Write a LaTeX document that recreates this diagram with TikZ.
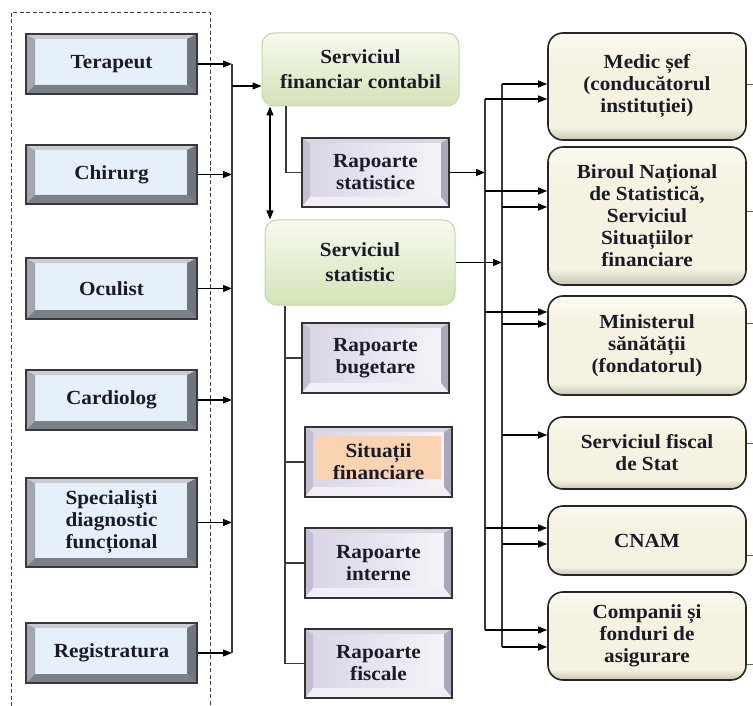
\documentclass[tikz,border=0pt]{standalone}
\usepackage{fontspec}
\setmainfont{Liberation Serif}[FakeStretch=1.06]
\usetikzlibrary{arrows.meta}

\definecolor{txt}{HTML}{1B1B28}
\definecolor{lface}{HTML}{E6F0FA}
\definecolor{lbvL}{HTML}{A2A7AF}
\definecolor{lbvT}{HTML}{C9CDD3}
\definecolor{lbvR}{HTML}{6F757D}
\definecolor{lbvB}{HTML}{7C8189}
\definecolor{pfaceL}{HTML}{D9D3E6}
\definecolor{pfaceR}{HTML}{F7F5FA}
\definecolor{pbvL}{HTML}{C4BED2}
\definecolor{pbvT}{HTML}{DAD6E2}
\definecolor{pbvR}{HTML}{ACA6BA}
\definecolor{pbvB}{HTML}{F1EFF5}
\definecolor{peach}{HTML}{F9D3B2}
\definecolor{gtop}{HTML}{F7FAF1}
\definecolor{gbot}{HTML}{D3E3B6}
\definecolor{gedge}{HTML}{C5D6A6}
\definecolor{creamT}{HTML}{FCFAF1}
\definecolor{creamM}{HTML}{F6F2E1}
\definecolor{creamD}{HTML}{C9C4B3}
\definecolor{busc}{HTML}{3A3A3A}

\pgfdeclareverticalshading{creamsh}{100bp}{color(0bp)=(creamD); color(25bp)=(creamD); color(31bp)=(creamM); color(62bp)=(creamM); color(75bp)=(creamT); color(100bp)=(creamT)}

\newcommand\bevelfill[8]{%
 \fill[#5] (path picture bounding box.north west) -- (path picture bounding box.south west) -- ([shift={(#1,#4)}]path picture bounding box.south west) -- ([shift={(#1,-#2)}]path picture bounding box.north west) -- cycle;
 \fill[#6] (path picture bounding box.north west) -- (path picture bounding box.north east) -- ([shift={(-#3,-#2)}]path picture bounding box.north east) -- ([shift={(#1,-#2)}]path picture bounding box.north west) -- cycle;
 \fill[#7] (path picture bounding box.north east) -- (path picture bounding box.south east) -- ([shift={(-#3,#4)}]path picture bounding box.south east) -- ([shift={(-#3,-#2)}]path picture bounding box.north east) -- cycle;
 \fill[#8] (path picture bounding box.south west) -- (path picture bounding box.south east) -- ([shift={(-#3,#4)}]path picture bounding box.south east) -- ([shift={(#1,#4)}]path picture bounding box.south west) -- cycle;
}

\tikzset{
 lab/.style={align=center, text=txt, inner sep=0pt, font=\fontsize{20}{22}\selectfont\bfseries},
 lbox/.style={lab, rectangle, draw=black!78, line width=1.2pt, fill=lface, minimum width=171pt,
   path picture={\bevelfill{9pt}{5pt}{10pt}{9pt}{lbvL}{lbvT}{lbvR}{lbvB}}},
 pbox/.style={lab, rectangle, draw=black!80, line width=1.3pt, left color=pfaceL, right color=pfaceR, minimum width=147pt,
   path picture={\bevelfill{8pt}{5pt}{8pt}{10pt}{pbvL}{pbvT}{pbvR}{pbvB}}},
 orbox/.style={pbox, path picture={\bevelfill{8pt}{5pt}{8pt}{10pt}{pbvL}{pbvT}{pbvR}{pbvB}
   \fill[peach] ([shift={(11pt,-9pt)}]path picture bounding box.north west) rectangle ([shift={(-11pt,18pt)}]path picture bounding box.south east);}},
 gbox/.style={lab, rectangle, rounded corners=12pt, draw=gedge, line width=1pt, top color=gtop, bottom color=gbot},
 rbox/.style={lab, rectangle, rounded corners=15pt, draw=black!85, line width=1.6pt, shading=creamsh, minimum width=198pt},
 arr/.style={-{Triangle[length=9pt,width=7pt]}, line width=1.2pt, black},
 darr/.style={{Triangle[length=9pt,width=7pt]}-{Triangle[length=9pt,width=7pt]}, line width=1.3pt, black},
 bus/.style={line width=1.1pt, busc},
 gline/.style={line width=1.1pt, busc},
 stub/.style={line width=0.8pt, black!60},
 frame/.style={line width=1pt, black!75, dash pattern=on 4pt off 2.5pt}
}

\begin{document}
\begin{tikzpicture}[x=1pt,y=-1pt]
\useasboundingbox[fill=white] (0,0) rectangle (753,706);

% dashed frame
\draw[frame] (11,706) -- (11,13) -- (210,13) -- (210,706);

% left boxes
\node[lbox, minimum height=60pt] (ter) at (111.5,64) {Terapeut};
\node[lbox, minimum height=59pt] (chi) at (111.5,174.5) {Chirurg};
\node[lbox, minimum height=61pt] (ocu) at (111.5,288.5) {Oculist};
\node[lbox, minimum height=60pt] (car) at (111.5,400) {Cardiolog};
\node[lbox, minimum height=89pt] (spe) at (111.5,522.5) {Speciali\c{s}ti\\diagnostic\\funcțional};
\node[lbox, minimum height=60pt] (reg) at (111.5,653) {Registratura};

% middle column
\node[gbox, minimum width=197pt, minimum height=73pt] (sfc) at (360.5,69.5) {Serviciul\\[3pt]financiar contabil};
\node[pbox, minimum height=69pt] (rs) at (375.5,172.5) {Rapoarte\\statistice};
\node[gbox, minimum width=190pt, minimum height=85pt] (ss) at (360,262.5) {Serviciul\\[3pt]statistic};
\node[pbox, minimum height=70pt] (rb) at (375.5,358) {Rapoarte\\bugetare};
\node[orbox, minimum height=70pt] (sf) at (378.5,462) {Situații\\financiare};
\node[pbox, minimum height=70pt] (ri) at (378.5,563) {Rapoarte\\interne};
\node[pbox, minimum height=69pt] (rf) at (378.5,663.5) {Rapoarte\\fiscale};

% right column
\node[rbox, minimum height=107pt] (med) at (647,86.5) {Medic șef\\(conducătorul\\instituției)};
\node[rbox, minimum height=138pt] (bir) at (647,216) {Biroul Național\\de Statistică,\\Serviciul\\Situațiilor\\financiare};
\node[rbox, minimum height=99pt] (min) at (647,345.5) {Ministerul\\sănătății\\(fondatorul)};
\node[rbox, minimum height=72pt] (fis) at (647,453) {Serviciul fiscal\\de Stat};
\node[rbox, minimum height=69pt] (cnam) at (647,540.5) {CNAM};
\node[rbox, minimum height=88pt] (comp) at (647,636) {Companii și\\fonduri de\\asigurare};

% left bus
\coordinate (bl) at (232,0);
\foreach \n in {ter,chi,ocu,car,spe,reg}{\draw[arr] (\n.east) -- (\n.east -| bl);}
\draw[bus] (ter.east -| bl) -- (reg.east -| bl);
\coordinate (bin) at (232,86);
\draw[arr] (bin) -- (bin -| sfc.west);

% between services
\coordinate (dv) at (270,0);
\draw[darr] (sfc.south -| dv) -- (ss.north -| dv);
\coordinate (sv) at (286,0);
\draw[gline] (sfc.south -| sv) |- (rs.west);

% tree under Serviciul statistic
\coordinate (tv) at (285,0);
\draw[gline] (ss.south -| tv) -- (tv |- rf.west);
\foreach \n in {rb,sf,ri,rf}{\draw[gline] (tv |- \n.west) -- (\n.west);}

% right buses
\coordinate (ba) at (485,0);
\coordinate (bb) at (502,0);
\draw[arr] (rs.east) -- (rs.east -| ba);
\draw[arr] (ss.east) -- (ss.east -| bb);

\coordinate (a1) at (485,99);
\coordinate (a2) at (485,191);
\coordinate (a3) at (485,312);
\coordinate (a5) at (485,528);
\coordinate (a6) at (485,630);
\coordinate (b1) at (502,84);
\coordinate (b2) at (502,207);
\coordinate (b3) at (502,324);
\coordinate (b4) at (502,435);
\coordinate (b5) at (502,544);
\coordinate (b6) at (502,647);
\draw[bus] (a1) -- (a6);
\draw[bus] (b1) -- (b6);
\draw[arr] (a1) -- (a1 -| med.west);
\draw[arr] (b1) -- (b1 -| med.west);
\draw[arr] (a2) -- (a2 -| bir.west);
\draw[arr] (b2) -- (b2 -| bir.west);
\draw[arr] (a3) -- (a3 -| min.west);
\draw[arr] (b3) -- (b3 -| min.west);
\draw[arr] (b4) -- (b4 -| fis.west);
\draw[arr] (a5) -- (a5 -| cnam.west);
\draw[arr] (b5) -- (b5 -| cnam.west);
\draw[arr] (a6) -- (a6 -| comp.west);
\draw[arr] (b6) -- (b6 -| comp.west);

% stubs leaving to the right
\coordinate (e1) at (753,84);
\coordinate (e2) at (753,211);
\coordinate (e3) at (753,323);
\coordinate (e4) at (753,443);
\coordinate (e5) at (753,555);
\coordinate (e6) at (753,664);
\draw[stub] (e1 -| med.east) -- (e1);
\draw[stub] (e2 -| bir.east) -- (e2);
\draw[stub] (e3 -| min.east) -- (e3);
\draw[stub] (e4 -| fis.east) -- (e4);
\draw[stub] (e5 -| cnam.east) -- (e5);
\draw[stub] (e6 -| comp.east) -- (e6);
\end{tikzpicture}
\end{document}
